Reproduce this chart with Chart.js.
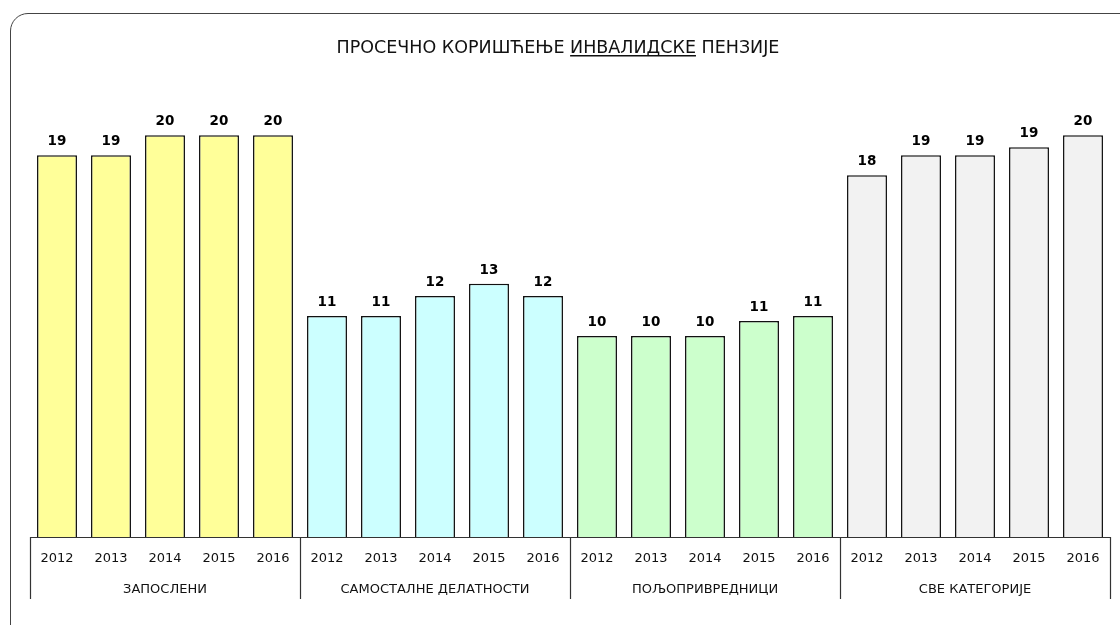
<!DOCTYPE html>
<html>
<head>
<meta charset="utf-8">
<script src="https://cdn.jsdelivr.net/npm/chart.js@4/dist/chart.umd.min.js"></script>
<style>
    html, body { margin: 0; padding: 0; background: #fff; overflow: hidden; }
    #frame {
        position: absolute; left: 10px; top: 13px; width: 1140px; height: 640px;
        border: 1.5px solid #444; border-radius: 18px; box-sizing: border-box;
    }
    #wrap { position: absolute; left: 0; top: 0; width: 1120px; height: 625px; }
</style>
</head>
<body>
<div id="frame"></div>
<div id="wrap"><canvas id="chart" width="1120" height="625"></canvas></div>
<script>
const years = ['2012', '2013', '2014', '2015', '2016'];
const groups = ['ЗАПОСЛЕНИ', 'САМОСТАЛНЕ ДЕЛАТНОСТИ', 'ПОЉОПРИВРЕДНИЦИ', 'СВЕ КАТЕГОРИЈЕ'];
const employed = [19, 19, 20, 20, 20];
const selfEmployed = [11, 11, 12, 12.6, 12];
const farmers = [10, 10, 10, 10.75, 11];
const allCategories = [18, 19, 19, 19.4, 20];
const groupColors = ['#FFFF99', '#CCFFFF', '#CCFFCC', '#F2F2F2'];

const seriesList = [employed, selfEmployed, farmers, allCategories];
const labels = [];
const values = [];
const colors = [];
seriesList.forEach((s, g) => {
    s.forEach((v, i) => {
        labels.push(groups[g] + ' ' + years[i]);
        values.push(v);
        colors.push(groupColors[g]);
    });
});

const FONT = '"DejaVu Sans", sans-serif';

// title with underlined word
const titlePlugin = {
    id: 'title2',
    afterDraw(chart) {
        const ctx = chart.ctx;
        const parts = ['ПРОСЕЧНО КОРИШЋЕЊЕ ', 'ИНВАЛИДСКЕ', ' ПЕНЗИЈЕ'];
        ctx.save();
        ctx.font = '17.5px ' + FONT;
        ctx.fillStyle = '#111';
        ctx.textBaseline = 'alphabetic';
        const widths = parts.map(p => ctx.measureText(p).width);
        const total = widths.reduce((a, b) => a + b, 0);
        let x = 558 - total / 2;
        const y = 53;
        parts.forEach((p, i) => {
            ctx.fillText(p, x, y);
            if (i === 1) {
                ctx.fillRect(x, y + 2, widths[i], 1.5);
            }
            x += widths[i];
        });
        ctx.restore();
    }
};

// value labels and grouped category axis
const axisPlugin = {
    id: 'groupAxis',
    afterDatasetsDraw(chart) {
        const ctx = chart.ctx;
        const xs = chart.scales.x;
        const area = chart.chartArea;
        const meta = chart.getDatasetMeta(0);
        ctx.save();
        ctx.fillStyle = '#000';
        ctx.textAlign = 'center';
        ctx.font = 'bold 13.5px ' + FONT;
        ctx.textBaseline = 'alphabetic';
        meta.data.forEach((bar, i) => {
            ctx.fillText(String(Math.round(values[i])), bar.x, bar.y - 10);
        });

        const step = xs.getPixelForValue(1) - xs.getPixelForValue(0);
        const edge = i => xs.getPixelForValue(i) - step / 2;
        const base = area.bottom;

        ctx.strokeStyle = '#333';
        ctx.lineWidth = 1.2;
        ctx.beginPath();
        ctx.moveTo(edge(0), base + 0.5);
        ctx.lineTo(edge(labels.length), base + 0.5);
        for (let g = 0; g <= groups.length; g++) {
            const x = Math.round(edge(g * years.length)) + 0.5;
            ctx.moveTo(x, base);
            ctx.lineTo(x, base + 62);
        }
        ctx.stroke();

        ctx.font = '13px ' + FONT;
        ctx.fillStyle = '#111';
        ctx.textBaseline = 'middle';
        labels.forEach((l, i) => {
            ctx.fillText(years[i % years.length], xs.getPixelForValue(i), base + 22);
        });
        groups.forEach((g, k) => {
            const cx = (edge(k * years.length) + edge((k + 1) * years.length)) / 2;
            ctx.fillText(g, cx, base + 53);
        });
        ctx.restore();
    }
};

new Chart(document.getElementById('chart'), {
    type: 'bar',
    data: {
        labels: labels,
        datasets: [{
            data: values,
            backgroundColor: colors,
            borderColor: '#111',
            borderWidth: 1.5,
            barPercentage: 0.74,
            categoryPercentage: 1
        }]
    },
    options: {
        responsive: false,
        animation: false,
        devicePixelRatio: 1,
        layout: {
            padding: { left: 30, right: 10, top: 95, bottom: 88 }
        },
        plugins: {
            legend: { display: false },
            tooltip: { enabled: false }
        },
        scales: {
            x: { display: false },
            y: { display: false, min: 0, max: 22 }
        }
    },
    plugins: [titlePlugin, axisPlugin]
});
</script>
</body>
</html>
